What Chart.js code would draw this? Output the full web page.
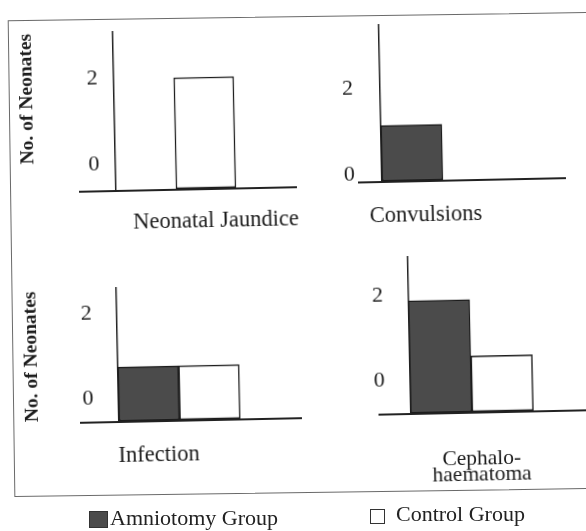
<!DOCTYPE html>
<html><head><meta charset="utf-8">
<script src="https://cdn.jsdelivr.net/npm/chart.js@4.4.1/dist/chart.umd.min.js"></script>
<style>
html,body{margin:0;padding:0;background:#fff;width:586px;height:531px;overflow:hidden;}
#stage{position:relative;width:586px;height:531px;overflow:hidden;background:#fff;}
canvas.panel{position:absolute;left:0;top:0;}
#frame{position:absolute;left:11px;top:16px;width:590px;height:477px;border:1.5px solid #6a6a6a;transform:rotate(-0.8deg);box-sizing:border-box;}
.leg{position:absolute;font-family:'Liberation Serif',serif;font-size:22px;line-height:22px;color:#222;white-space:nowrap;}
.sw{position:absolute;box-sizing:border-box;}
</style></head><body>
<div id="stage">
  <div id="frame"></div>
  <canvas id="c0" class="panel" width="620" height="531"></canvas>
  <canvas id="c1" class="panel" width="620" height="531"></canvas>
  <canvas id="c2" class="panel" width="620" height="531"></canvas>
  <canvas id="c3" class="panel" width="620" height="531"></canvas>
  <div class="sw" style="left:89px;top:511px;width:19px;height:17px;background:#4b4b4b;border:1px solid #333;"></div>
  <div class="leg" id="leg0" style="left:110px;top:507px;"></div>
  <div class="sw" style="left:370px;top:509px;width:15px;height:15px;border:1.2px solid #333;background:#fff;"></div>
  <div class="leg" id="leg1" style="left:396px;top:503px;"></div>
</div>
<script>
// ---- data ----
const categories = ['Neonatal Jaundice', 'Convulsions', 'Infection', ['Cephalo-', 'haematoma']];
const amniotomy = [0, 1, 1, 2];
const control = [2, 0, 1, 1];
const tickValues = [0, 2];
const seriesNames = ['Amniotomy Group', 'Control Group'];
const yTitle = 'No. of Neonates';

document.getElementById('leg0').textContent = seriesNames[0];
document.getElementById('leg1').textContent = seriesNames[1];

// ---- layout of the four panels (the scan is tilted ~1.2 deg, reproduced by rotating each panel about its axis corner) ----
const W = 620, H = 531, XH = 80, TILT = -1.2;
const panels = [
  {ox:116,   oy:191, width:180,   top:32,    barMax:2.84, lblMin:-0.610, lblMax:3.062, lblPad:16, ext:37, title:true,  tAlign:'end',    padLeft:17.3, xPad:18.5, xOff:9.4,   font:22.5, lh:1.2},
  {ox:382,   oy:182, width:183,   top:25,    barMax:2.78, lblMin:-0.177, lblMax:3.474, lblPad:27, ext:24, title:false, tAlign:'center', padLeft:300,  xPad:20.5, xOff:-48.2, font:22.5, lh:1.2},
  {ox:119,   oy:422, width:182,   top:288,   barMax:2.44, lblMin:-0.555, lblMax:2.598, lblPad:25, ext:39, title:true,  tAlign:'center', padLeft:20.8, xPad:20.3, xOff:-51.7, font:22.5, lh:1.2},
  {ox:410.5, oy:414, width:184.5, top:256.7, barMax:2.78, lblMin:-0.792, lblMax:2.920, lblPad:25, ext:32, title:false, tAlign:'center', padLeft:330,  xPad:38,   xOff:-21.9, font:21.5, lh:'16px'}
];

const SERIF = "'Liberation Serif', 'DejaVu Serif', serif";
const INK = '#1c1c1c';

panels.forEach((p, i) => {
  const cv = document.getElementById('c' + i);
  cv.style.transformOrigin = p.ox + 'px ' + p.oy + 'px';
  cv.style.transform = 'rotate(' + TILT + 'deg)';
  new Chart(cv, {
    type: 'bar',
    data: {
      labels: [categories[i]],
      datasets: [
        {label: seriesNames[0], data: [amniotomy[i]], backgroundColor: '#4b4b4b', borderColor: INK, borderWidth: 1.5, borderSkipped: false},
        {label: seriesNames[1], data: [control[i]], backgroundColor: '#ffffff', borderColor: INK, borderWidth: 1.5, borderSkipped: false},
        {label: '', data: [null]}
      ]
    },
    options: {
      responsive: false,
      animation: false,
      devicePixelRatio: 1,
      layout: {padding: {left: p.padLeft, top: p.top, right: W - p.ox - p.width, bottom: H - p.oy - XH}},
      plugins: {legend: {display: false}, tooltip: {enabled: false}},
      datasets: {bar: {categoryPercentage: 1, barPercentage: 1}},
      scales: {
        x: {
          type: 'category', position: 'bottom', offset: true,
          grid: {display: false, drawTicks: false},
          border: {display: true, color: '#222', width: 2},
          ticks: {color: INK, font: {family: SERIF, size: p.font, lineHeight: p.lh}, padding: p.xPad,
                  labelOffset: p.xOff, maxRotation: 0, minRotation: 0, autoSkip: false},
          afterFit: s => { s.height = XH; s.paddingLeft = 0; s.paddingRight = 0; }
        },
        y: {
          type: 'linear', position: 'left', min: 0, max: p.barMax, weight: 0,
          afterBuildTicks: s => { s.ticks = [{value: 0}]; },
          ticks: {display: false},
          grid: {display: true, drawOnChartArea: false, drawTicks: true, tickLength: p.ext, color: '#222', lineWidth: 2},
          border: {display: true, color: '#222', width: 1.5},
          afterFit: s => { s.width = 0; }
        },
        yl: {
          type: 'linear', position: 'left', min: p.lblMin, max: p.lblMax, weight: 1,
          afterBuildTicks: s => { s.ticks = tickValues.map(v => ({value: v})); },
          grid: {display: false, drawTicks: false},
          border: {display: false},
          ticks: {padding: p.lblPad, color: INK, font: {family: SERIF, size: 22}},
          title: {display: p.title, text: yTitle, color: INK, padding: 0, align: p.tAlign,
                  font: {family: SERIF, size: 19.5, weight: 'bold'}},
          afterFit: s => { s.width = p.ox - p.padLeft; s.paddingTop = 0; s.paddingBottom = 0; }
        }
      }
    }
  });
});
</script>
</body></html>
